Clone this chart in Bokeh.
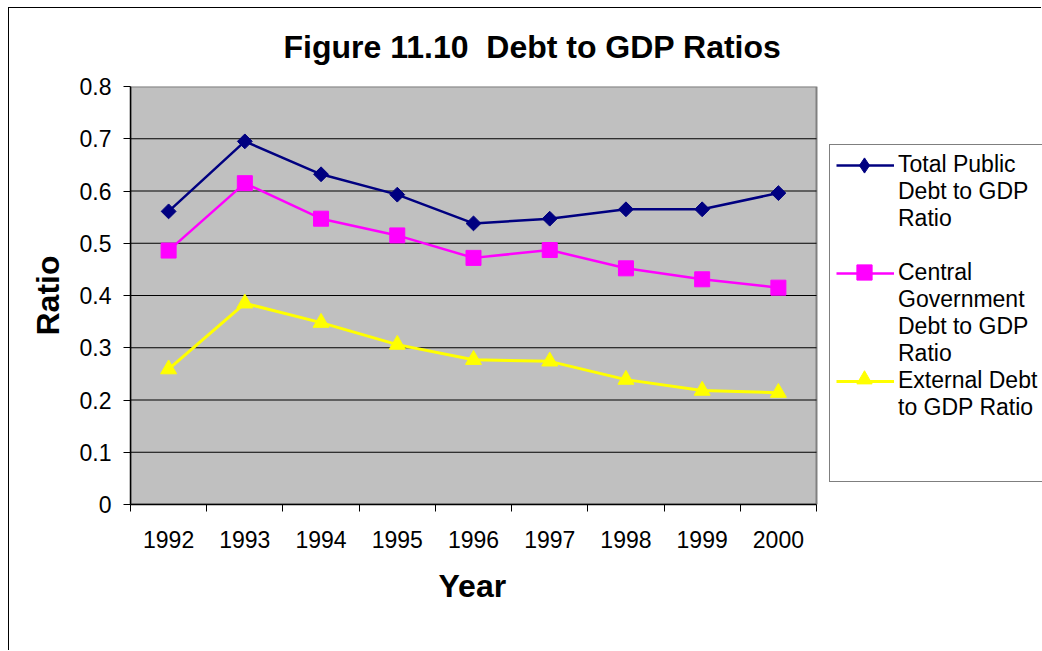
import math
from bokeh.plotting import figure
from bokeh.models import (Range1d, FixedTicker, Legend, LegendItem, Title,
                          ColumnDataSource)
from bokeh.embed import file_html
from bokeh.resources import INLINE

# Debt ratios by year
years = ["1992", "1993", "1994", "1995", "1996", "1997", "1998", "1999", "2000"]
total_public = [0.561, 0.695, 0.632, 0.593, 0.538, 0.547, 0.565, 0.565, 0.596]
central_gov = [0.486, 0.615, 0.547, 0.515, 0.472, 0.487, 0.452, 0.431, 0.415]
external = [0.259, 0.385, 0.348, 0.306, 0.277, 0.274, 0.239, 0.218, 0.214]

y_ticks = [0, 0.1, 0.2, 0.3, 0.4, 0.5, 0.6, 0.7, 0.8]
y_tick_labels = ["0", "0.1", "0.2", "0.3", "0.4", "0.5", "0.6", "0.7", "0.8"]

FONT = "Liberation Sans"
TICK_SIZE = "23px"
BOLD_SIZE = "32px"

# layout (canvas pixels): gray plot area 686 px wide, frame runs on to the
# right edge so the legend can sit beside the plot area
CANVAS_W, CANVAS_H = 1033, 643
LEFT, TOP, BOTTOM = 121, 78, 147
PLOT_W = 686
n = len(years)
x_max = n * (CANVAS_W - LEFT) / PLOT_W

# category centres on a numeric axis, with boundaries at whole numbers
xs = [i + 0.5 for i in range(n)]
src = ColumnDataSource(dict(x=xs, total=total_public, central=central_gov, ext=external))

p = figure(width=CANVAS_W, height=CANVAS_H, output_backend="svg", toolbar_location=None,
           x_range=Range1d(0, x_max), y_range=Range1d(y_ticks[0], y_ticks[-1]),
           min_border_left=LEFT, min_border_right=0,
           min_border_top=TOP, min_border_bottom=BOTTOM,
           styles={"margin-left": "8px", "margin-top": "7px",
                   "border-left": "1px solid black", "border-top": "1px solid black"})

p.background_fill_color = "white"
p.border_fill_color = "white"
p.outline_line_color = None
p.xgrid.visible = False
p.ygrid.visible = False

# gray plot area and horizontal gridlines
p.quad(left=0, right=n, bottom=y_ticks[0], top=y_ticks[-1], fill_color="#C0C0C0",
       line_color="#808080", line_width=2, level="underlay")
inner = y_ticks[1:-1]
p.segment(x0=[0] * len(inner), x1=[n] * len(inner), y0=inner, y1=inner,
          line_color="black", line_width=1)

# x axis: labels at centres, ticks on category boundaries
xax = p.xaxis[0]
xax.bounds = (0, n)
xax.ticker = FixedTicker(ticks=xs, minor_ticks=list(range(n + 1)))
xax.major_label_overrides = {x: y for x, y in zip(xs, years)}
xax.major_tick_out = 0
xax.major_tick_in = 0
xax.minor_tick_out = 7
xax.minor_tick_in = 0
xax.minor_tick_line_color = "black"
xax.major_label_standoff = 19

yax = p.yaxis[0]
yax.ticker = FixedTicker(ticks=y_ticks, minor_ticks=[])
yax.major_label_overrides = {t: s for t, s in zip(y_ticks, y_tick_labels)}
yax.major_tick_out = 7
yax.major_tick_in = 0
yax.major_label_standoff = 12
yax.axis_label = "Ratio"
yax.axis_label_standoff = 11

for ax in (xax, yax):
    ax.axis_line_color = "black"
    ax.axis_line_width = 1.5
    ax.major_tick_line_color = "black"
    ax.major_label_text_font = FONT
    ax.major_label_text_font_size = TICK_SIZE
    ax.major_label_text_color = "black"
    ax.axis_label_text_font = FONT
    ax.axis_label_text_font_size = BOLD_SIZE
    ax.axis_label_text_font_style = "bold"
    ax.axis_label_text_color = "black"

p.add_layout(Title(text="Figure 11.10 \u00a0Debt to GDP Ratios", align="left", offset=153,
                   vertical_align="top", standoff=39,
                   text_font=FONT, text_font_size=BOLD_SIZE, text_font_style="bold",
                   text_color="black"), "above")

# x-axis title, centred under the gray plot area
p.add_layout(Title(text="Year", align="left", offset=PLOT_W / 2 - 35,
                   vertical_align="top", standoff=34,
                   text_font=FONT, text_font_size=BOLD_SIZE, text_font_style="bold",
                   text_color="black"), "below")

# series
l1 = p.line("x", "total", source=src, line_color="#000080", line_width=2.5)
m1 = p.scatter("x", "total", source=src, marker="square", angle=math.pi / 4,
               size=10.5, fill_color="#000080", line_color="#000080")
l2 = p.line("x", "central", source=src, line_color="#FF00FF", line_width=2.5)
m2 = p.scatter("x", "central", source=src, marker="square", size=15,
               fill_color="#FF00FF", line_color="#FF00FF")
l3 = p.line("x", "ext", source=src, line_color="#FFFF00", line_width=3)
m3 = p.scatter("x", "ext", source=src, marker="triangle", size=16,
               fill_color="#FFFF00", line_color="#FFFF00")

# legend key for the first series (flat diamond); its point is NaN so only the key shows
key1 = p.scatter(x=[math.nan], y=[math.nan], marker="diamond", angle=math.pi / 2,
                 fill_color="#000080", line_color="#000080")

# text-only legend rows for wrapped labels
blank = p.line([], [], line_alpha=0)

def row(text, rs=None):
    return LegendItem(label=text, renderers=rs if rs else [blank])

# box, labels and key lines
items = [
    row("Total Public", [l1]), row("Debt to GDP"), row("Ratio"), row(" "),
    row("Central", [l2]), row("Government"), row("Debt to GDP"), row("Ratio"),
    row("External Debt", [l3]), row("to GDP Ratio"), row(" "), row(" "),
]
legend = Legend(items=items, location=(699, 22), orientation="vertical",
                label_text_font=FONT, label_text_font_size=TICK_SIZE,
                label_text_color="black", label_height=27, label_standoff=4,
                glyph_width=58, glyph_height=20, spacing=0, padding=6, margin=0,
                border_line_color="black", border_line_width=1,
                background_fill_color="white", background_fill_alpha=1)
p.add_layout(legend, "center")

# key markers, one per series, laid over the key lines
markers = Legend(items=[LegendItem(label=" ", renderers=[key1], index=0),
                        LegendItem(label=" ", renderers=[m2], index=0),
                        LegendItem(label=" ", renderers=[m3], index=0)],
                 location=(705, 106), orientation="vertical",
                 label_text_font_size="1px", label_standoff=0, label_height=38,
                 glyph_width=58, glyph_height=38, spacing=69, padding=0, margin=0,
                 border_line_color=None, background_fill_alpha=0)
p.add_layout(markers, "center")

open("out.html", "w").write(file_html(p, INLINE))
